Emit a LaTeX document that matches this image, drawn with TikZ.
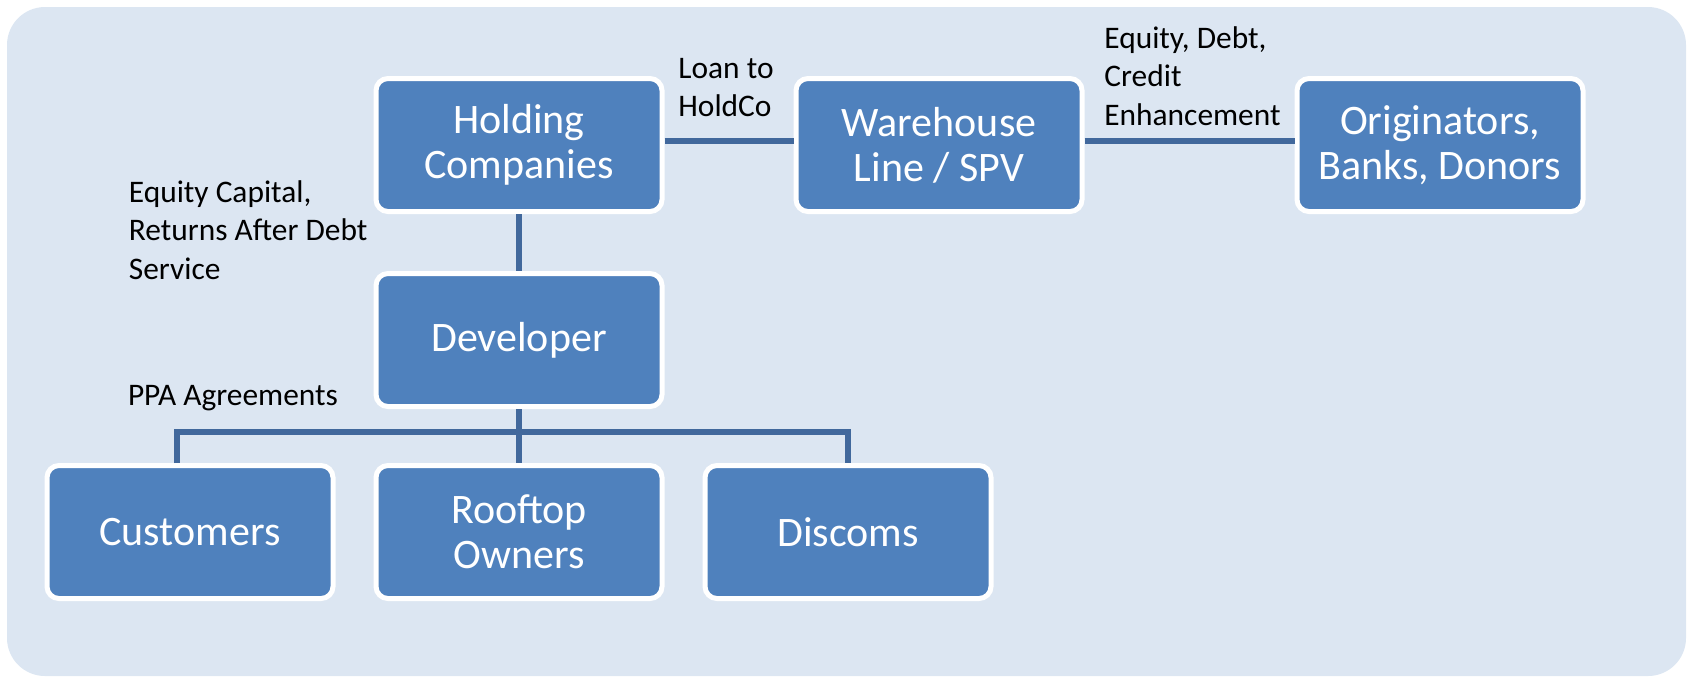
\documentclass[tikz,border=0pt]{standalone}
\usepackage{fontspec}
\setmainfont{Carlito}
\definecolor{bgc}{HTML}{DCE6F2}
\definecolor{boxc}{HTML}{4F81BD}
\definecolor{linec}{HTML}{41689C}
\begin{document}
\begin{tikzpicture}[x=0.5pt,y=-0.5pt,
  entity/.style={draw=white, line width=2.5pt, fill=boxc, rounded corners=6pt,
    minimum width=143pt, minimum height=66.5pt, align=center, text=white,
    font=\fontsize{21}{22.6}\selectfont, inner sep=0pt},
  lbl/.style={align=left, anchor=base west, inner sep=0pt,
    font=\fontsize{15.7}{19.2}\selectfont},
  link/.style={draw=linec, line width=2.7pt}]
\useasboundingbox (0,0) rectangle (1691,677);
\fill[bgc, rounded corners=19pt] (7,7) rectangle (1686,676);

\node[entity] (hold) at (519,145) {Holding\\Companies};
\node[entity] (ware) at (939,145) {Warehouse\\Line / SPV};
\node[entity] (orig) at (1440,145) {Originators,\\Banks, Donors};
\node[entity] (dev)  at (519,340) {Developer};
\node[entity] (cust) at (190,532) {Customers};
\node[entity] (roof) at (519,532) {Rooftop\\Owners};
\node[entity] (disc) at (848,532) {Discoms};

\draw[link] ([yshift=2pt]hold.east) -- ([yshift=2pt]ware.west);
\draw[link] ([yshift=2pt]ware.east) -- ([yshift=2pt]orig.west);
\draw[link] (hold) -- (dev);
\draw[link] (dev) -- (roof);
\coordinate (busL) at (177,432);
\coordinate (busR) at (848,432);
\draw[link] (cust.north -| busL) -- (busL) -- (busR) -- (disc.north);

\node[lbl] (lloan) at (678,116.7) {Loan to\\HoldCo};
\node[lbl] (ldebt) at (1104,125) {Equity, Debt,\\Credit\\Enhancement};
\node[lbl] (lcap) at (128.5,279) {Equity Capital,\\Returns After Debt\\Service};
\node[lbl] (lppa) at (127.6,405) {PPA Agreements};
\end{tikzpicture}
\end{document}
